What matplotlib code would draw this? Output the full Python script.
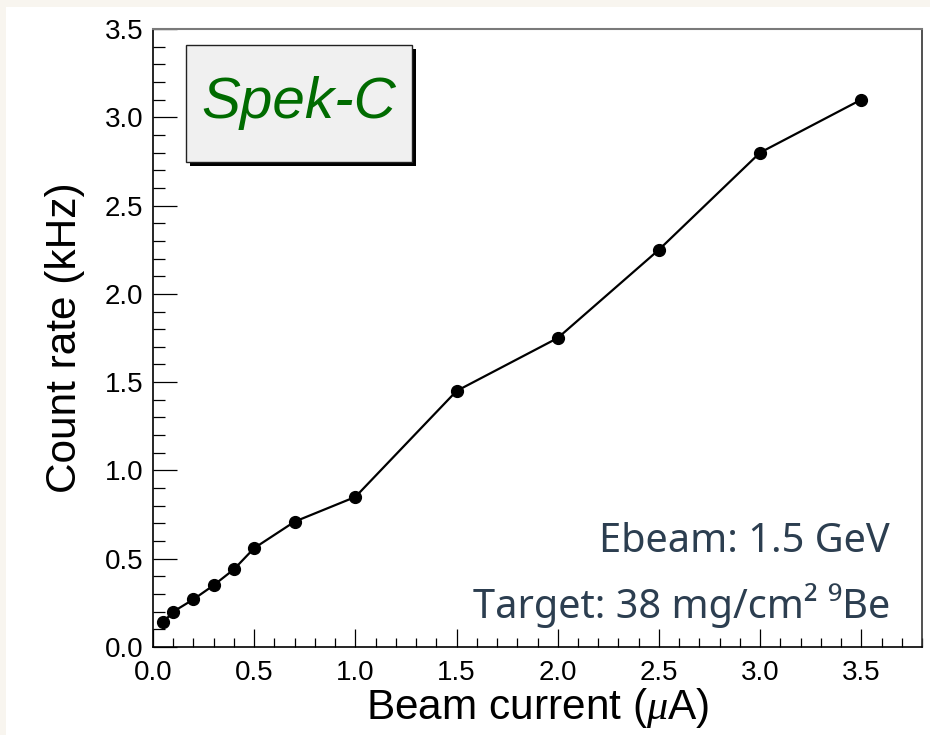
import matplotlib.pyplot as plt
from matplotlib.patches import Rectangle
from matplotlib.ticker import MultipleLocator

# beam current scan, Spek-C detector
beam_current = [0.05, 0.1, 0.2, 0.3, 0.4, 0.5, 0.7, 1.0, 1.5, 2.0, 2.5, 3.0, 3.5]  # uA
count_rate = [0.14, 0.20, 0.27, 0.35, 0.44, 0.56, 0.71, 0.85, 1.45, 1.75, 2.25, 2.80, 3.10]  # kHz

x_ticks = [0.0, 0.5, 1.0, 1.5, 2.0, 2.5, 3.0, 3.5]
y_ticks = [0.0, 0.5, 1.0, 1.5, 2.0, 2.5, 3.0, 3.5]

W, H = 930, 735
plt.rcParams['font.family'] = ['Liberation Sans', 'DejaVu Sans']
plt.rcParams['mathtext.fontset'] = 'custom'
plt.rcParams['mathtext.it'] = 'Liberation Serif:italic'

fig = plt.figure(figsize=(W / 100, H / 100), dpi=100, facecolor='#f8f5ef')

def fx(px):
    return px / W

def fy(py):
    return 1 - py / H

# white canvas panel
fig.patches.append(Rectangle((fx(6), 0), 1 - fx(6), fy(7), transform=fig.transFigure,
                             facecolor='white', edgecolor='none', zorder=-1))

ax = fig.add_axes([fx(153), fy(647), fx(922) - fx(153), fy(29) - fy(647)])
ax.set_zorder(1)
ax.set_facecolor('white')
ax.plot(beam_current, count_rate, color='black', lw=1.6, marker='o', ms=8.5, zorder=3)

ax.set_xlim(0, 3.8)
ax.set_ylim(0, 3.5)
ax.set_xticks(x_ticks)
ax.set_yticks(y_ticks)
ax.set_xticklabels([f'{v:.1f}' for v in x_ticks])
ax.set_yticklabels([f'{v:.1f}' for v in y_ticks])
ax.xaxis.set_minor_locator(MultipleLocator(0.1))
ax.yaxis.set_minor_locator(MultipleLocator(0.1))

ax.tick_params(which='both', direction='in', top=False, right=False, width=0.9,
               labelsize=20, colors='black')
ax.tick_params(axis='x', which='major', length=13, pad=9)
ax.tick_params(axis='x', which='minor', length=6.5)
ax.tick_params(axis='y', which='major', length=17, pad=7)
ax.tick_params(axis='y', which='minor', length=8.6)

for side in ('left', 'bottom'):
    ax.spines[side].set_linewidth(1.2)
ax.spines['top'].set_color('#7a7a7a')
ax.spines['top'].set_linewidth(1.5)
ax.spines['right'].set_color('#333333')
ax.spines['right'].set_linewidth(1.2)

ax.set_xlabel(r'Beam current ($\mu$A)', fontsize=30.5, labelpad=0)
ax.set_ylabel('Count rate (kHz)', fontsize=30.5, labelpad=14)

# detector name box with drop shadow
bx0, by0, bx1, by1 = 186, 45, 412, 162
fig.patches.append(Rectangle((fx(bx0 + 4), fy(by1 + 4)), fx(bx1) - fx(bx0), fy(by0) - fy(by1),
                             transform=fig.transFigure, facecolor='black', edgecolor='none', zorder=5))
fig.patches.append(Rectangle((fx(bx0), fy(by1)), fx(bx1) - fx(bx0), fy(by0) - fy(by1),
                             transform=fig.transFigure, facecolor='#f0f0f0', edgecolor='#222222',
                             lw=1, zorder=6))
fig.text(fx((bx0 + bx1) / 2), fy((by0 + by1) / 2), 'Spek-C', fontsize=42, style='italic',
         color='#006b00', ha='center', va='center', zorder=7)

# run conditions
note_color = '#2c3e50'
fig.text(fx(890), fy(552), 'Ebeam: 1.5 GeV', fontsize=28.6, family='Noto Sans',
         color=note_color, ha='right', va='baseline', zorder=7)
fig.text(fx(890), fy(618), 'Target: 38 mg/cm\u00b2 \u2079Be', fontsize=28.6, family='Noto Sans',
         color=note_color, ha='right', va='baseline', zorder=7)

fig.savefig('out.png', dpi=100, facecolor=fig.get_facecolor())
